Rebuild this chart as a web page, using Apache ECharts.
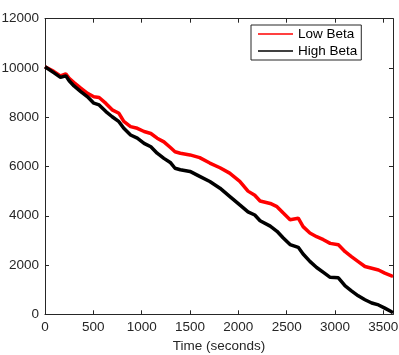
<!DOCTYPE html>
<html>
<head>
<meta charset="utf-8">
<script src="https://cdn.jsdelivr.net/npm/echarts@6/dist/echarts.min.js"></script>
<style>html,body{margin:0;padding:0;background:#fff}#c{width:399px;height:355px}</style>
</head>
<body>
<div id="c"></div>
<script>
var times = [0,90,160,215,250,300,370,440,505,560,630,695,765,815,885,955,1025,1095,1160,1230,1300,1345,1400,1500,1600,1705,1810,1910,2015,2100,2170,2225,2330,2400,2465,2535,2620,2670,2740,2810,2880,2950,3035,3105,3170,3240,3310,3380,3450,3515,3585,3600];
var lowBeta = [10050,9860,9680,9760,9580,9410,9180,8970,8830,8800,8560,8300,8160,7830,7620,7550,7420,7340,7150,7000,6760,6600,6540,6470,6360,6140,5950,5730,5400,5000,4830,4600,4500,4370,4110,3840,3900,3560,3300,3150,3030,2880,2820,2540,2340,2140,1940,1870,1800,1670,1560,1540];
var highBeta = [10050,9810,9620,9680,9480,9270,9040,8830,8570,8500,8230,8020,7820,7550,7280,7150,6940,6800,6540,6330,6150,5930,5870,5800,5600,5390,5120,4790,4440,4160,4030,3800,3580,3370,3100,2830,2720,2450,2150,1900,1700,1500,1480,1150,950,750,590,460,380,250,100,60];
var seriesNames = ['Low Beta','High Beta'];
var xTicks = [0,500,1000,1500,2000,2500,3000,3500];
var yTicks = [0,2000,4000,6000,8000,10000,12000];

function pairs(v){ return times.map(function(t,i){ return [t, v[i]]; }); }

var font = 'Liberation Sans, Arial, Helvetica, sans-serif';
var axCol = '#262626';
function axisCommon(showLabel){
  return {
    axisLine:{show:true, onZero:false, lineStyle:{color:axCol, width:1}},
    axisTick:{show:true, inside:true, length:4, lineStyle:{color:axCol, width:1}},
    splitLine:{show:false},
    axisLabel:{show:showLabel, color:axCol, fontFamily:font, fontSize:13.5, margin:6}
  };
}
var x0 = Object.assign(axisCommon(true), {type:'value', position:'bottom', min:0, max:3600, interval:500,
  name:'Time (seconds)', nameLocation:'middle', nameGap:22,
  nameTextStyle:{color:axCol, fontFamily:font, fontSize:13.5}});
x0.axisLabel.formatter = function(v){ return xTicks.indexOf(v) >= 0 ? String(v) : ''; };
var x1 = Object.assign(axisCommon(false), {type:'value', position:'top', min:0, max:3600, interval:500});
var y0 = Object.assign(axisCommon(true), {type:'value', position:'left', min:0, max:12000, interval:2000});
y0.axisLabel.formatter = function(v){ return yTicks.indexOf(v) >= 0 ? String(v) : ''; };
var y1 = Object.assign(axisCommon(false), {type:'value', position:'right', min:0, max:12000, interval:2000});

var chart = echarts.init(document.getElementById('c'), null, {renderer:'canvas'});
chart.setOption({
  animation:false,
  backgroundColor:'#fff',
  grid:{left:45, right:6, top:18.7, bottom:40.7, containLabel:false, outerBoundsMode:'none'},
  xAxis:[x0, x1],
  yAxis:[y0, y1],
  legend:{
    left:251, top:25, orient:'vertical',
    data:seriesNames,
    icon:'rect',
    backgroundColor:'#fff',
    borderColor:axCol, borderWidth:1,
    padding:[1,4,1,7],
    itemGap:1, itemWidth:35, itemHeight:1.5,
    textStyle:{color:'#000', fontFamily:font, fontSize:13.5, lineHeight:16}
  },
  series:[
    {name:seriesNames[0], type:'line', xAxisIndex:0, yAxisIndex:0, data:pairs(lowBeta), showSymbol:false, symbol:'none',
     lineStyle:{color:'#ff0000', width:3.5}, itemStyle:{color:'#ff0000'}, z:3},
    {name:seriesNames[1], type:'line', xAxisIndex:0, yAxisIndex:0, data:pairs(highBeta), showSymbol:false, symbol:'none',
     lineStyle:{color:'#000000', width:3.5}, itemStyle:{color:'#000000'}, z:3}
  ]
});
</script>
</body>
</html>
